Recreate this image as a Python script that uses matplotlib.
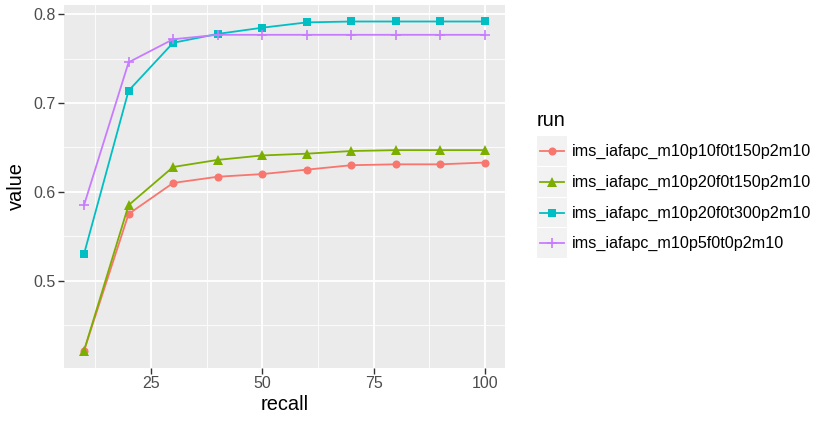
import matplotlib
matplotlib.use('Agg')
import matplotlib.pyplot as plt
from matplotlib.patches import Rectangle

plt.rcParams['font.family'] = ['Liberation Sans', 'DejaVu Sans']

recall = [10, 20, 30, 40, 50, 60, 70, 80, 90, 100]
runs = ['ims_iafapc_m10p10f0t150p2m10', 'ims_iafapc_m10p20f0t150p2m10',
        'ims_iafapc_m10p20f0t300p2m10', 'ims_iafapc_m10p5f0t0p2m10']
v_p10t150 = [0.421, 0.575, 0.610, 0.617, 0.620, 0.625, 0.630, 0.631, 0.631, 0.633]
v_p20t150 = [0.421, 0.585, 0.628, 0.636, 0.641, 0.643, 0.646, 0.647, 0.647, 0.647]
v_p20t300 = [0.530, 0.714, 0.768, 0.778, 0.785, 0.791, 0.792, 0.792, 0.792, 0.792]
v_p5t0 = [0.585, 0.746, 0.772, 0.777, 0.777, 0.777, 0.777, 0.777, 0.777, 0.777]
values = [v_p10t150, v_p20t150, v_p20t300, v_p5t0]

colors = ['#F8766D', '#7CAE00', '#00BFC4', '#C77CFF']
markers = ['o', '^', 's', '+']
msizes = [5.8, 6.6, 5.6, 7.5]

W, H = 817, 422
fig = plt.figure(figsize=(W / 100, H / 100), dpi=100)
L, R, T, B = 64, 505, 5, 368
ax = fig.add_axes([L / W, 1 - B / H, (R - L) / W, (B - T) / H])
ax.set_facecolor('#EBEBEB')

for vals, c, m, s in zip(values, colors, markers, msizes):
    ax.plot(recall, vals, color=c, lw=1.3, marker=m, ms=s, mew=1.2 if m == '+' else 0,
            zorder=3)

ax.set_xlim(5.5, 104.5)
ax.set_ylim(0.4014, 0.8106)
ax.set_xticks([25, 50, 75, 100])
ax.set_xticks([12.5, 37.5, 62.5, 87.5], minor=True)
ax.set_yticks([0.5, 0.6, 0.7, 0.8])
ax.set_yticks([0.45, 0.55, 0.65, 0.75], minor=True)
ax.set_yticklabels(['0.5', '0.6', '0.7', '0.8'])
ax.grid(which='major', color='white', lw=1.3, zorder=0)
ax.grid(which='minor', color='white', lw=0.6, zorder=0)
ax.set_axisbelow(True)
for sp in ax.spines.values():
    sp.set_visible(False)
ax.tick_params(which='major', length=4, width=1, color='#333333',
               labelcolor='#4D4D4D', labelsize=11.5, pad=2)
ax.tick_params(which='minor', length=0)
ax.set_xlabel('recall', fontsize=14.4, labelpad=3)
ax.set_ylabel('value', fontsize=14.4, labelpad=5)

# legend
fig.text(537 / W, 1 - 121 / H, 'run', fontsize=14.4, va='center', ha='left')
top = 136
row = 30.8
for i, (name, c, m, s) in enumerate(zip(runs, colors, markers, msizes)):
    y0 = top + i * row
    kax = fig.add_axes([537 / W, 1 - (y0 + row - 1) / H, 30 / W, (row - 1) / H])
    kax.add_patch(Rectangle((0, 0), 1, 1, facecolor='#F2F2F2', edgecolor='none'))
    kax.plot([0.1, 0.9], [0.5, 0.5], color=c, lw=1.3)
    kax.plot([0.5], [0.5], color=c, marker=m, ms=s, mew=1.2 if m == '+' else 0)
    kax.set_xlim(0, 1)
    kax.set_ylim(0, 1)
    kax.axis('off')
    fig.text(572 / W, 1 - (y0 + row / 2) / H, name, fontsize=11.6,
             va='center', ha='left', color='black')

fig.savefig('out.png', dpi=100)
